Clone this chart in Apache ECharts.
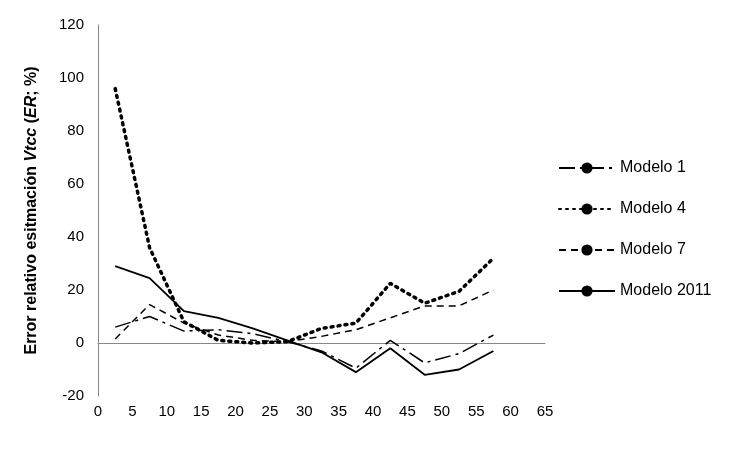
<!DOCTYPE html><html><head><meta charset="utf-8"><script src="https://cdn.jsdelivr.net/npm/echarts@6/dist/echarts.min.js"></script></head><body style="margin:0;background:#fff"><div id="c" style="width:750px;height:450px"></div><script>
const xs=[2.5,7.5,12.5,17.5,22.5,27.5,32.5,37.5,42.5,47.5,52.5,57.5];
const m1=[6,10,4.5,5,3.5,0.5,-3,-9.5,1,-7.5,-4,3];
const m4=[96,36,8,1,0,0.5,5.5,7.5,22.5,15,19.5,32];
const m7=[1.5,14.5,7.5,3,1,0.5,2.5,5,9.5,14,14,20];
const m2011=[29,24.5,12,9.5,5.5,1,-3.5,-11,-2,-12,-10,-3];
const names=['Modelo 1','Modelo 4','Modelo 7','Modelo 2011'];
const f='"Liberation Sans", Arial, sans-serif';
const pair=a=>xs.map((x,i)=>[x,a[i]]);
const styles=[{type:[16,5,3,5],width:1.5},{type:[2,5],width:3.5,cap:'round'},{type:[7,5],width:1.5},{type:'solid',width:1.8}];
const nb={fontFamily:f,fontSize:16,fontWeight:'bold',color:'#000'};
const ni=Object.assign({},nb,{fontStyle:'italic'});
const c=echarts.init(document.getElementById('c'));
c.setOption({animation:false,
grid:{left:98,right:205,top:25,bottom:54,outerBoundsMode:'none',containLabel:false},
legend:{orient:'vertical',left:553,top:155,itemWidth:56,itemHeight:14,itemGap:25,textStyle:{fontFamily:f,fontSize:16,color:'#000'},data:names},
xAxis:{type:'value',min:0,max:65,interval:5,name:'{b|clases de }{i|d}{b| (cm)}',nameLocation:'middle',nameGap:70,
 nameTextStyle:{rich:{b:nb,i:ni}},
 axisLine:{onZero:true,lineStyle:{color:'#888'}},axisTick:{show:false},splitLine:{show:false},
 axisLabel:{fontFamily:f,fontSize:15,color:'#000',margin:8}},
yAxis:{type:'value',min:-20,max:120,interval:20,name:'{b|Error relativo esitmación }{i|Vtcc}{b| (}{i|ER}{b|; %)}',nameLocation:'middle',nameGap:58,
 nameTextStyle:{rich:{b:nb,i:ni}},
 axisLine:{show:true,lineStyle:{color:'#888'}},axisTick:{show:false},splitLine:{show:false},
 axisLabel:{fontFamily:f,fontSize:15,color:'#000',margin:14}},
series:[m1,m4,m7,m2011].map((d,i)=>({name:names[i],type:'line',data:pair(d),showSymbol:false,symbol:'none',
 lineStyle:Object.assign({color:'#000'},styles[i]),itemStyle:{color:'#000'}}))
});
</script></body></html>
